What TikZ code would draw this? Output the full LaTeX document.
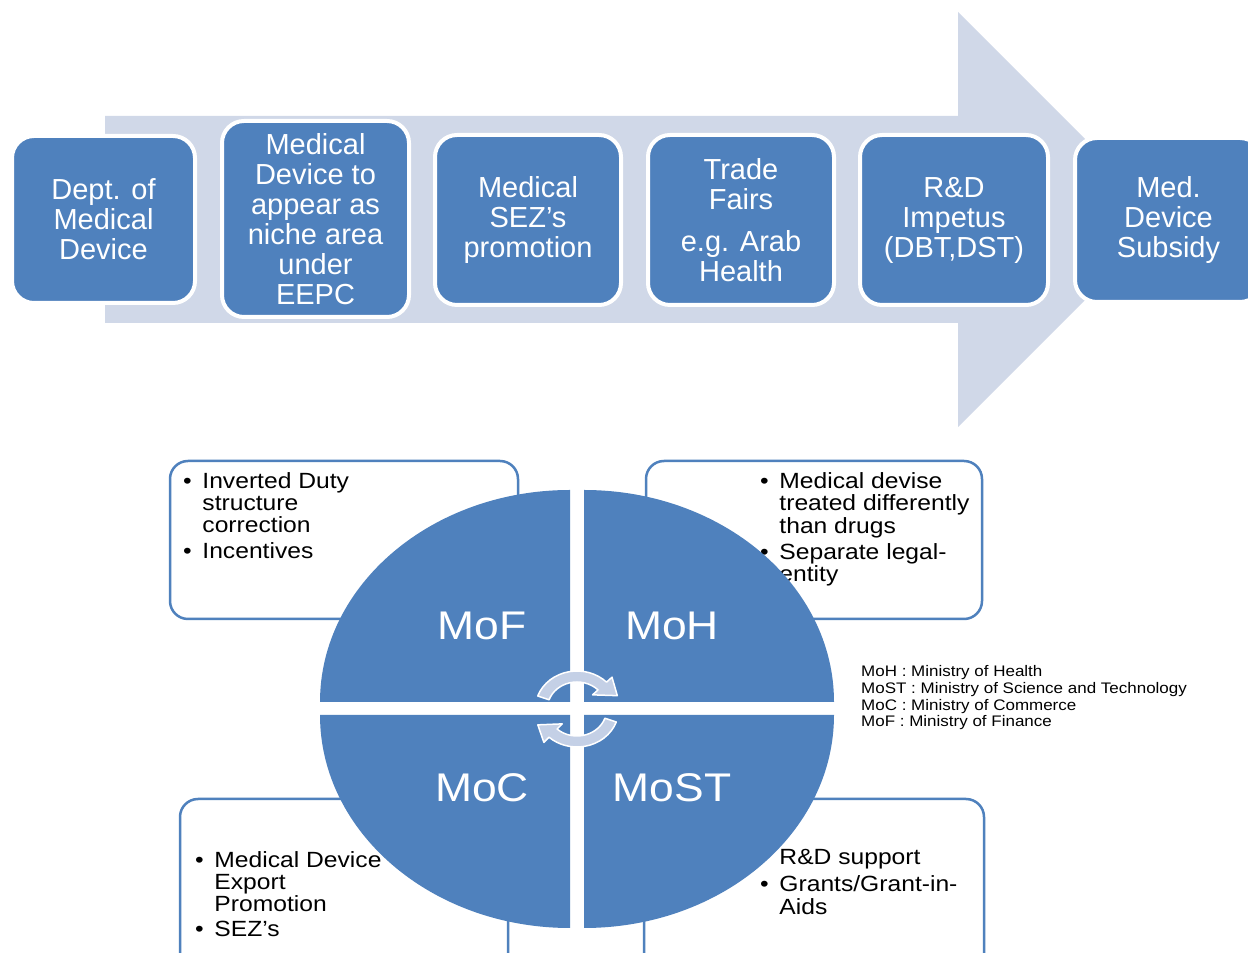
\documentclass[tikz,border=0pt]{standalone}
\usepackage{fontspec}
\setmainfont{Liberation Sans}
\usepackage{graphicx}
\definecolor{boxblue}{RGB}{79,129,189}
\definecolor{shaft}{RGB}{208,216,232}
\definecolor{arr}{RGB}{196,208,230}
\newcommand{\sx}[1]{\scalebox{1.11}[1]{#1}}
\newcommand{\sxb}[1]{\scalebox{1.12}[1]{#1}}
\newcommand{\bul}{\makebox[17.2pt][l]{•}}
\begin{document}
\begin{tikzpicture}[x=1pt,y=1pt,
 stage/.style={rectangle, rounded corners=22pt, fill=boxblue, draw=white, line width=4pt, text=white, align=center, inner sep=0pt, font=\fontsize{29}{30}\selectfont},
 note/.style={rectangle, rounded corners=18pt, fill=white, draw=boxblue, line width=2.5pt, inner sep=0pt},
 item/.style={anchor=north west, inner sep=0pt, font=\fontsize{22}{21.6}\selectfont},
 quad/.style={fill=boxblue},
 ministry/.style={text=white, inner sep=0pt, font=\fontsize{40}{40}\selectfont},
 cyc/.style={fill=arr, draw=white, line width=1.5pt, line join=round},
 legendtext/.style={anchor=north west, inner sep=0pt, font=\fontsize{15.3}{16.7}\selectfont}
]
\useasboundingbox (0,0) rectangle (1248,953);
\fill[white] (0,0) rectangle (1248,953);
% big arrow
\fill[shaft] (105,837) -- (958,837) -- (958,941) -- (1165.5,733.5) -- (958,526) -- (958,630) -- (105,630) -- cycle;
% stages
\node[stage, minimum width=183, minimum height=167] (s1) at (103.5,733.5) {Dept. of\\Medical\\Device};
\node[stage, minimum width=187, minimum height=196] (s2) at (315.5,734) {Medical\\Device to\\appear as\\niche area\\under\\EEPC};
\node[stage, minimum width=186, minimum height=170] (s3) at (528,733) {Medical\\SEZ’s\\promotion};
\node[stage, minimum width=186, minimum height=170] (s4) at (741,733) {Trade\\Fairs\\[12pt]e.g. Arab\\Health};
\node[stage, minimum width=188, minimum height=170] (s5) at (954,733) {R\&D\\Impetus\\(DBT,DST)};
\node[stage, minimum width=187, minimum height=164] (s6) at (1168.5,733) {Med.\\Device\\Subsidy};
% notes
\node[note, minimum width=348, minimum height=158] (nTL) at (344,413) {};
\node[note, minimum width=336, minimum height=158] (nTR) at (814,413) {};
\node[note, minimum width=328, minimum height=181] (nBL) at (344,63.5) {};
\node[note, minimum width=340, minimum height=181] (nBR) at (814,63.5) {};
\node[item] (tTL) at (183,480.6) {\sxb{\begin{tabular}{@{}l@{}l@{}}\bul&Inverted Duty\\&structure\\&correction\\[3.5pt]\bul&Incentives\end{tabular}}};
\node[item] (tTR) at (760,480.6) {\sxb{\begin{tabular}{@{}l@{}l@{}}\bul&Medical devise\\&treated differently\\&than drugs\\[3.5pt]\bul&Separate legal-\\&entity\end{tabular}}};
\node[item] (tBL) at (195,101.6) {\sxb{\begin{tabular}{@{}l@{}l@{}}\bul&Medical Device\\&Export\\&Promotion\\[3.5pt]\bul&SEZ’s\end{tabular}}};
\node[item] (tBR) at (760,103.6) {\sxb{\begin{tabular}{@{}l@{}l@{}}\hspace*{17.2pt}&R\&D support\\[4.5pt]\bul&Grants/Grant-in-\\&Aids\end{tabular}}};
% quadrants
\fill[quad] (570,251) -- (320,251) arc[start angle=180, end angle=90, x radius=250, y radius=212] -- cycle;
\fill[quad] (584,251) -- (584,463) arc[start angle=90, end angle=0, x radius=250, y radius=212] -- cycle;
\fill[quad] (570,238) -- (320,238) arc[start angle=180, end angle=270, x radius=250, y radius=213] -- cycle;
\fill[quad] (584,238) -- (834,238) arc[start angle=0, end angle=-90, x radius=250, y radius=213] -- cycle;
\node[ministry] (mof) at (482,327) {\sx{MoF}};
\node[ministry] (moh) at (672,327) {\sx{MoH}};
\node[ministry] (moc) at (482,165) {\sx{MoC}};
\node[ministry] (most) at (672,165) {\sx{MoST}};
% cycle arrows
\begin{scope}[shift={(577,244)}, xscale=1.1]
\draw[cyc] (160:38) arc[start angle=160, end angle=45, radius=38] -- (45:45) -- (20:39) -- (45:20) -- (45:27) arc[start angle=45, end angle=160, radius=27] -- cycle;
\draw[cyc] (340:38) arc[start angle=340, end angle=228, radius=38] -- (228:45) -- (204:39) -- (228:20) -- (228:27) arc[start angle=228, end angle=340, radius=27] -- cycle;
\end{scope}
% legend
\node[legendtext] (legend) at (861,288.2) {\sx{\begin{tabular}{@{}l@{}}MoH : Ministry of Health\\MoST : Ministry of Science and Technology\\MoC : Ministry of Commerce\\MoF : Ministry of Finance\end{tabular}}};
\end{tikzpicture}
\end{document}
